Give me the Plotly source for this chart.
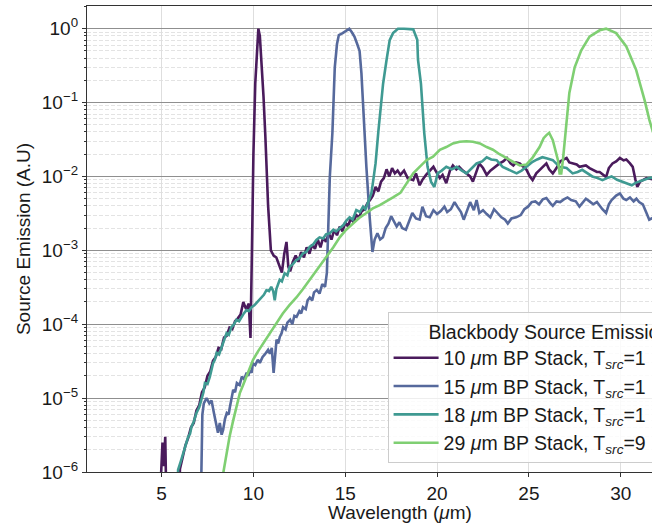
import plotly.graph_objects as go

# ---------------- data ----------------
w10 = [4.80, 5.05, 5.12, 5.20, 5.30, 5.90, 6.00, 6.15, 6.30, 6.45, 6.60, 6.75, 6.90, 7.05, 7.20, 7.35,
       7.50, 7.65, 7.80, 7.95, 8.10, 8.25, 8.40, 8.55, 8.70, 8.85, 9.00, 9.15, 9.30, 9.45, 9.60, 9.75,
       9.84, 9.92, 10.00, 10.10, 10.20, 10.27, 10.35, 10.45, 10.55, 10.65, 10.80, 10.95, 11.10, 11.25,
       11.40, 11.55, 11.68, 11.80, 11.90, 12.00, 12.15, 12.30, 12.45, 12.60, 12.75, 12.90, 13.05, 13.20,
       13.35, 13.50, 13.65, 13.80, 13.95, 14.10, 14.25, 14.40, 14.55, 14.70, 14.85, 15.00, 15.15, 15.30,
       15.45, 15.60, 15.75, 15.90, 16.05, 16.20, 16.35, 16.50, 16.65, 16.80, 16.95, 17.10, 17.25, 17.40,
       17.55, 17.70, 17.85, 18.00, 18.20, 18.40, 18.70, 18.85, 19.05, 19.20, 19.40, 19.60, 19.80, 20.00,
       20.15, 20.30, 20.50, 20.70, 20.86, 21.05, 21.20, 21.40, 21.60, 21.80, 21.95, 22.10, 22.30, 22.50,
       22.70, 22.90, 23.05, 23.20, 23.40, 23.60, 23.80, 24.00, 24.15, 24.30, 24.50, 24.70, 24.87, 25.05,
       25.20, 25.40, 25.60, 25.80, 25.95, 26.10, 26.30, 26.50, 26.70, 26.90, 27.05, 27.20, 27.40, 27.60,
       27.75, 27.95, 28.10, 28.30, 28.50, 28.70, 28.85, 29.05, 29.20, 29.35, 29.55, 29.75, 29.95, 30.15,
       30.30, 30.50, 30.65, 30.80, 30.90, 31.05, 31.20, 31.40, 31.60, 31.90]
e10 = [1e-7, 2.5e-6, 1.2e-6, 3.0e-6, 1e-7, 1e-7, 1.1e-6, 1.6e-6, 2.3e-6, 2.9e-6, 4.0e-6, 4.6e-6, 6.8e-6,
       8.0e-6, 1.2e-5, 1.4e-5, 2.0e-5, 2.3e-5, 3.2e-5, 3.6e-5, 4.8e-5, 4.6e-5, 6.6e-5, 7.0e-5, 9.0e-5,
       8.6e-5, 1.1e-4, 1.2e-4, 1.35e-4, 2.0e-4, 1.6e-4, 1.9e-4, 6.5e-5, 1.0e-3, 0.02, 0.18, 0.65, 1.0,
       0.8, 0.35, 0.12, 0.035, 4e-3, 1.0e-3, 8.5e-4, 8.0e-4, 6.5e-4, 5.0e-4, 9e-4, 1.3e-3, 6.0e-4,
       5.2e-4, 7.0e-4, 8.5e-4, 7.0e-4, 9.5e-4, 8.0e-4, 1.1e-3, 9.0e-4, 1.2e-3, 1.05e-3, 1.4e-3, 1.1e-3,
       1.5e-3, 1.3e-3, 1.7e-3, 1.4e-3, 1.9e-3, 1.6e-3, 2.1e-3, 1.8e-3, 2.4e-3, 2.1e-3, 2.7e-3, 2.4e-3,
       3.0e-3, 2.8e-3, 3.4e-3, 3.6e-3, 4.3e-3, 4.8e-3, 5.5e-3, 7.2e-3, 6.3e-3, 8.5e-3, 9.5e-3, 1.25e-2,
       1.0e-2, 1.3e-2, 1.1e-2, 1.2e-2, 1.05e-2, 1.2e-2, 9.5e-3, 8.9e-3, 1.1e-2, 7.6e-3, 9.0e-3, 1.05e-2,
       1.2e-2, 1.35e-2, 1.1e-2, 9.5e-3, 1.05e-2, 8.1e-3, 1.2e-2, 1.41e-2, 1.25e-2, 1.35e-2, 1.2e-2,
       1.1e-2, 1.0e-2, 8.5e-3, 1.1e-2, 1.5e-2, 1.3e-2, 1.05e-2, 1.2e-2, 1.29e-2, 1.4e-2, 1.5e-2, 1.6e-2,
       1.78e-2, 1.5e-2, 1.41e-2, 1.55e-2, 1.5e-2, 1.35e-2, 1.23e-2, 1.0e-2, 8.9e-3, 1.1e-2, 1.23e-2,
       1.4e-2, 1.5e-2, 1.25e-2, 1.1e-2, 1.3e-2, 1.6e-2, 1.7e-2, 1.78e-2, 1.55e-2, 1.5e-2, 1.45e-2,
       1.35e-2, 1.4e-2, 1.41e-2, 1.3e-2, 1.23e-2, 1.15e-2, 1.15e-2, 1.05e-2, 9.8e-3, 1.3e-2, 1.5e-2,
       1.6e-2, 1.78e-2, 1.65e-2, 1.7e-2, 1.5e-2, 1.35e-2, 9.0e-3, 7.2e-3, 8.5e-3, 8.9e-3, 9.5e-3,
       9.3e-3, 9.0e-3]

w15 = [7.10, 7.18, 7.22, 7.30, 7.45, 7.60, 7.72, 7.85, 7.95, 8.07, 8.17, 8.27, 8.35, 8.45, 8.55, 8.65,
       8.72, 8.82, 8.90, 9.00, 9.10, 9.25, 9.37, 9.50, 9.63, 9.72, 9.80, 9.90, 9.97, 10.10, 10.24, 10.35,
       10.50, 10.62, 10.80, 10.90, 11.00, 11.10, 11.18, 11.26, 11.35, 11.44, 11.53, 11.62, 11.75, 11.85,
       12.00, 12.12, 12.23, 12.35, 12.50, 12.60, 12.70, 12.85, 12.95, 13.07, 13.20, 13.30, 13.45, 13.60,
       13.75, 13.90, 14.00, 14.08, 14.16, 14.30, 14.43, 14.55, 14.65, 14.86, 15.05, 15.22, 15.35, 15.50,
       15.65, 15.78, 15.88, 15.95, 16.05, 16.15, 16.33, 16.48, 16.60, 16.75, 16.90, 17.05, 17.20, 17.35,
       17.50, 17.65, 17.80, 17.95, 18.10, 18.30, 18.50, 18.65, 18.85, 19.05, 19.20, 19.40, 19.60, 19.80,
       20.00, 20.20, 20.40, 20.55, 20.75, 20.95, 21.10, 21.30, 21.45, 21.65, 21.80, 22.00, 22.15, 22.30,
       22.50, 22.70, 22.90, 23.10, 23.30, 23.50, 23.70, 23.85, 24.05, 24.30, 24.55, 24.75, 24.95, 25.15,
       25.35, 25.55, 25.75, 25.95, 26.15, 26.30, 26.50, 26.70, 26.90, 27.10, 27.30, 27.55, 27.75, 27.95,
       28.10, 28.30, 28.50, 28.70, 28.85, 29.00, 29.20, 29.35, 29.50, 29.75, 29.95, 30.15, 30.30, 30.50,
       30.70, 30.85, 31.00, 31.20, 31.40, 31.55, 31.80]
e15 = [1e-7, 2e-6, 6e-6, 8.5e-6, 1.0e-5, 8.5e-6, 9.3e-6, 6.3e-6, 4.5e-6, 3.4e-6, 4.6e-6, 3.2e-6, 3.7e-6,
       5.2e-6, 6.3e-6, 6.0e-6, 7.6e-6, 1.0e-5, 1.3e-5, 1.2e-5, 1.6e-5, 1.5e-5, 1.95e-5, 1.8e-5, 2.2e-5,
       2.0e-5, 2.4e-5, 2.2e-5, 2.95e-5, 2.8e-5, 3.3e-5, 3.0e-5, 3.6e-5, 3.9e-5, 4.5e-5, 4.0e-5, 4.8e-5,
       2.2e-5, 4.2e-5, 6.2e-5, 5.5e-5, 6.8e-5, 7.5e-5, 9.1e-5, 8.5e-5, 1.05e-4, 1.15e-4, 1.0e-4, 1.3e-4,
       1.26e-4, 1.5e-4, 1.4e-4, 1.7e-4, 1.6e-4, 2.1e-4, 2.3e-4, 2.1e-4, 2.7e-4, 2.9e-4, 2.6e-4, 3.5e-4,
       3.2e-4, 5e-4, 2e-3, 1.0e-2, 0.039, 0.3, 0.62, 0.82, 0.87, 0.94, 1.0, 0.9, 0.78, 0.62, 0.5, 0.25,
       0.107, 0.04, 0.0135, 2.8e-3, 9.5e-4, 1.4e-3, 1.7e-3, 1.4e-3, 1.5e-3, 2.0e-3, 2.3e-3, 2.9e-3,
       2.5e-3, 2.1e-3, 2.4e-3, 2.0e-3, 1.9e-3, 2.6e-3, 3.2e-3, 2.7e-3, 2.6e-3, 3.9e-3, 2.9e-3, 2.8e-3,
       3.5e-3, 3.1e-3, 3.4e-3, 3.9e-3, 3.3e-3, 3.6e-3, 4.5e-3, 3.9e-3, 3.3e-3, 2.6e-3, 3.6e-3, 4.5e-3,
       3.5e-3, 4.8e-3, 3.2e-3, 3.5e-3, 3.1e-3, 2.8e-3, 3.6e-3, 3.2e-3, 2.8e-3, 2.6e-3, 2.3e-3, 2.7e-3,
       2.8e-3, 3.0e-3, 3.6e-3, 3.9e-3, 4.5e-3, 4.6e-3, 4.2e-3, 4.9e-3, 5.1e-3, 4.4e-3, 4.0e-3, 4.6e-3,
       4.5e-3, 4.9e-3, 5.2e-3, 4.8e-3, 4.6e-3, 3.9e-3, 4.5e-3, 5.0e-3, 4.6e-3, 4.2e-3, 4.5e-3, 4.0e-3,
       3.6e-3, 3.2e-3, 4.2e-3, 4.8e-3, 5.5e-3, 5.9e-3, 5.0e-3, 4.8e-3, 5.2e-3, 4.6e-3, 5.0e-3, 4.5e-3,
       4.2e-3, 3.2e-3, 2.6e-3, 2.8e-3]

w18 = [5.80, 5.90, 6.05, 6.17, 6.30, 6.45, 6.55, 6.63, 6.75, 6.90, 7.05, 7.18, 7.28, 7.36, 7.50, 7.63,
       7.72, 7.80, 7.90, 8.00, 8.13, 8.26, 8.40, 8.54, 8.66, 8.80, 8.95, 9.08, 9.22, 9.35, 9.48, 9.62,
       9.75, 9.90, 10.05, 10.17, 10.30, 10.44, 10.57, 10.71, 10.85, 10.97, 11.08, 11.16, 11.25, 11.43,
       11.55, 11.70, 11.85, 11.98, 12.15, 12.34, 12.50, 12.70, 12.88, 13.07, 13.25, 13.43, 13.60, 13.80,
       13.95, 14.15, 14.35, 14.50, 14.70, 14.90, 15.05, 15.24, 15.40, 15.60, 15.80, 15.97, 16.10, 16.24,
       16.42, 16.50, 16.65, 16.80, 16.95, 17.06, 17.25, 17.42, 17.60, 17.87, 18.20, 18.50, 18.70, 18.92,
       18.96, 19.12, 19.30, 19.48, 19.67, 19.85, 20.03, 20.25, 20.50, 20.80, 21.07, 21.35, 21.60, 21.90,
       22.15, 22.45, 22.70, 22.95, 23.24, 23.57, 23.95, 24.33, 24.60, 24.87, 25.20, 25.45, 25.73, 26.00,
       26.30, 26.67, 27.05, 27.38, 27.65, 27.90, 28.20, 28.45, 28.75, 29.00, 29.25, 29.50, 29.80, 30.05,
       30.35, 30.60, 30.80, 31.00, 31.30, 31.55, 31.90]
e18 = [1e-7, 1.07e-6, 1.4e-6, 1.8e-6, 2.2e-6, 3.0e-6, 3.3e-6, 4.1e-6, 4.8e-6, 6.3e-6, 7.5e-6, 9.5e-6,
       1.2e-5, 1.6e-5, 1.55e-5, 1.95e-5, 2.5e-5, 2.95e-5, 3.3e-5, 4.1e-5, 3.9e-5, 4.9e-5, 6.0e-5, 7.6e-5,
       7.2e-5, 9.1e-5, 1.0e-4, 1.15e-4, 1.1e-4, 1.26e-4, 1.4e-4, 1.55e-4, 1.5e-4, 1.7e-4, 1.8e-4,
       1.95e-4, 2.1e-4, 2.3e-4, 2.5e-4, 2.9e-4, 2.8e-4, 3.2e-4, 2.8e-4, 2.1e-4, 3.0e-4, 4.0e-4, 3.8e-4,
       4.9e-4, 4.6e-4, 6.0e-4, 6.5e-4, 7.4e-4, 7.8e-4, 9.1e-4, 9.5e-4, 1.12e-3, 1.2e-3, 1.38e-3, 1.5e-3,
       1.45e-3, 1.65e-3, 1.7e-3, 1.9e-3, 1.8e-3, 2.0e-3, 2.2e-3, 2.5e-3, 2.8e-3, 2.6e-3, 3.5e-3, 3.3e-3,
       3.9e-3, 3.6e-3, 4.5e-3, 5.9e-3, 0.008, 0.015, 0.04, 0.1, 0.18, 0.38, 0.7, 0.87, 1.0, 1.0, 1.0,
       0.98, 0.71, 0.38, 0.18, 0.039, 0.0135, 8.5e-3, 7.2e-3, 1.1e-2, 1.2e-2, 1.35e-2, 1.25e-2, 1.35e-2,
       1.2e-2, 1.1e-2, 1.3e-2, 1.5e-2, 1.6e-2, 1.82e-2, 1.7e-2, 1.66e-2, 1.35e-2, 1.23e-2, 1.1e-2,
       1.2e-2, 1.35e-2, 1.58e-2, 1.7e-2, 1.82e-2, 1.75e-2, 1.66e-2, 1.35e-2, 1.3e-2, 1.1e-2, 1.15e-2,
       1.23e-2, 1.1e-2, 1.0e-2, 9.5e-3, 8.9e-3, 9.5e-3, 1.0e-2, 9.0e-3, 8.5e-3, 8.0e-3, 7.6e-3, 8.2e-3,
       8.5e-3, 9.0e-3, 9.5e-3, 9.8e-3]

w29 = [8.30, 8.54, 8.70, 8.90, 9.08, 9.26, 9.44, 9.62, 9.80, 9.98, 10.25, 10.53, 10.80, 11.07, 11.35,
       11.60, 11.95, 12.34, 12.70, 13.07, 13.35, 13.60, 13.98, 14.35, 14.70, 15.05, 15.42, 15.80, 16.15,
       16.50, 16.88, 17.25, 17.60, 18.00, 18.33, 18.70, 19.05, 19.42, 19.78, 20.15, 20.50, 20.86, 21.23,
       21.60, 21.95, 22.33, 22.70, 23.04, 23.40, 23.77, 24.15, 24.50, 24.86, 25.20, 25.58, 25.80, 25.94,
       26.10, 26.30, 26.45, 26.58, 26.67, 26.76, 26.85, 27.03, 27.20, 27.49, 27.85, 28.30, 28.85, 29.20,
       29.75, 30.30, 30.84, 31.30, 31.56, 31.90]
e29 = [8e-7, 1.8e-6, 3.0e-6, 5.0e-6, 7.8e-6, 1.17e-5, 1.5e-5, 1.95e-5, 2.6e-5, 3.3e-5, 4.3e-5, 5.5e-5,
       7.0e-5, 9.1e-5, 1.15e-4, 1.4e-4, 1.8e-4, 2.3e-4, 3.0e-4, 4.0e-4, 5.0e-4, 6.0e-4, 8.1e-4, 1.1e-3,
       1.5e-3, 1.9e-3, 2.3e-3, 2.8e-3, 3.2e-3, 3.7e-3, 4.1e-3, 4.6e-3, 5.2e-3, 6.0e-3, 8.1e-3, 1.1e-2,
       1.35e-2, 1.66e-2, 1.85e-2, 2.3e-2, 2.5e-2, 2.8e-2, 2.95e-2, 3.0e-2, 2.95e-2, 2.8e-2, 2.5e-2,
       2.3e-2, 2.0e-2, 1.78e-2, 1.6e-2, 1.41e-2, 1.45e-2, 1.8e-2, 2.5e-2, 3.3e-2, 3.6e-2, 3.9e-2, 3.1e-2,
       2.2e-2, 1.66e-2, 1.1e-2, 1.1e-2, 1.66e-2, 4.7e-2, 0.135, 0.3, 0.51, 0.78, 0.95, 1.0, 0.87, 0.575,
       0.275, 0.107, 0.058, 0.03]

series_names = ["10 <i>μ</i>m BP Stack, T<sub><i>src</i></sub>=1",
                "15 <i>μ</i>m BP Stack, T<sub><i>src</i></sub>=1",
                "18 <i>μ</i>m BP Stack, T<sub><i>src</i></sub>=1",
                "29 <i>μ</i>m BP Stack, T<sub><i>src</i></sub>=9"]
series_colors = ["#4a1b5c", "#56699c", "#3f9a92", "#7fcf72"]
legend_title = "Blackbody Source Emission"
x_ticks = [5, 10, 15, 20, 25, 30]
y_ticks = [1e-6, 1e-5, 1e-4, 1e-3, 1e-2, 1e-1, 1e0]
y_ticktext = ["10<sup>−6</sup>", "10<sup>−5</sup>", "10<sup>−4</sup>", "10<sup>−3</sup>",
              "10<sup>−2</sup>", "10<sup>−1</sup>", "10<sup>0</sup>"]

# ---------------- figure ----------------
FONT = "Liberation Sans, Arial, Helvetica, sans-serif"
fig = go.Figure()
for xs, ys, name, col in zip([w10, w15, w18, w29], [e10, e15, e18, e29], series_names, series_colors):
    fig.add_trace(go.Scatter(x=xs, y=ys, mode="lines", name=name,
                             line=dict(color=col, width=2.6)))

minor_vals = [m * 10.0 ** d for d in range(-6, 1) for m in range(2, 10)]

fig.update_layout(
    width=652, height=526,
    margin=dict(l=87, r=0, t=6, b=54, autoexpand=False),
    paper_bgcolor="white", plot_bgcolor="white",
    font=dict(family=FONT, size=19, color="#1a1a1a"),
    showlegend=True,
    legend=dict(
        title=dict(text="\u00a0" * 7 + legend_title, font=dict(size=19.5)),
        x=0.532, xanchor="left", y=0.343, yanchor="top",
        bgcolor="rgba(255,255,255,0.85)", bordercolor="#cccccc", borderwidth=1,
        font=dict(size=19.5, color="#1a1a1a"), itemwidth=45, tracegroupgap=0,
    ),
    xaxis=dict(
        range=[0.94, 31.7], tickvals=x_ticks, ticks="outside", ticklen=4,
        tickcolor="#333333", showline=True, linecolor="#333333", linewidth=1.2, mirror=True,
        showgrid=True, gridcolor="#dedede", gridwidth=1, zeroline=False,
        tickfont=dict(size=19),
    ),
    yaxis=dict(
        type="log", range=[-6, 0.307], tickvals=y_ticks, ticktext=y_ticktext,
        ticks="outside", ticklen=4, tickcolor="#333333",
        showline=True, linecolor="#333333", linewidth=1.2, mirror=False,
        showgrid=True, gridcolor="#8f8f8f", gridwidth=1, zeroline=False,
        tickfont=dict(size=19),
        title=dict(text="Source Emission (A.U)", font=dict(size=19), standoff=6),
        minor=dict(tickvals=minor_vals, ticks="outside", ticklen=2, tickcolor="#333333",
                   showgrid=True, gridcolor="#e3e3e3", gridwidth=0.8, griddash="4px,2px"),
    ),
    annotations=[dict(text="Wavelength (<i>μ</i>m)", x=0.554, y=-0.086, xref="paper", yref="paper",
                      xanchor="center", yanchor="middle", showarrow=False, font=dict(size=19))],
)

fig.write_html("out.html", config={"displayModeBar": False},
               post_script="document.body.style.margin='0';document.body.style.overflow='hidden';")
